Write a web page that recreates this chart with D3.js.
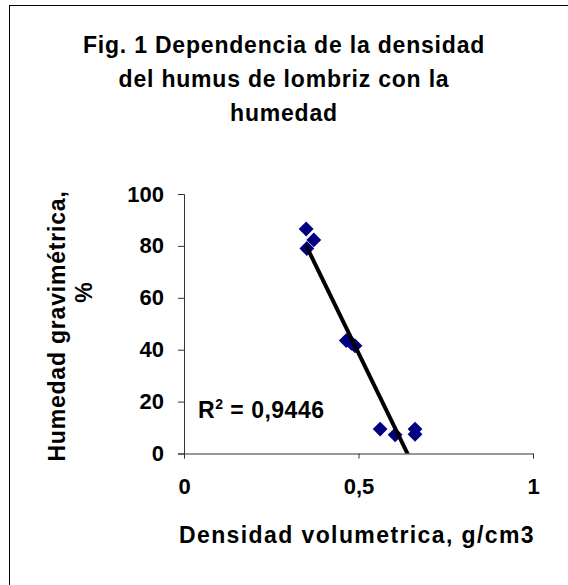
<!DOCTYPE html>
<html>
<head>
<meta charset="utf-8">
<script src="https://cdn.jsdelivr.net/npm/d3@7"></script>
<style>
  body { margin: 0; background: #fff; }
  text { font-family: "Liberation Sans", Arial, sans-serif; font-weight: bold; fill: #000; }
</style>
</head>
<body>
<div id="chart"></div>
<script>
// densidad (g/cm3) vs humedad (%)
var densidad = [0.350, 0.372, 0.352, 0.465, 0.480, 0.490, 0.562, 0.605, 0.662, 0.662];
var humedad = [86.5, 82.3, 79.0, 43.5, 42.5, 41.5, 9.4, 7.2, 9.4, 7.4];
var xTicks = [0, 0.5, 1];
var yTicks = [0, 20, 40, 60, 80, 100];
var titleLines = ["Fig. 1 Dependencia de la densidad", "del humus de lombriz con la", "humedad"];
var yTitleLines = ["Humedad gravimétrica,", "%"];
var xTitle = "Densidad volumetrica, g/cm3";
var trend = { slope: -276, intercept: 176.7, r2: "0,9446" };

var svg = d3.select("#chart")
  .append("svg")
  .attr("width", 568)
  .attr("height", 585);

// chart area frame (right/bottom edges fall outside the picture)
svg.append("rect")
  .attr("x", 9.5)
  .attr("y", 5.5)
  .attr("width", 700)
  .attr("height", 700)
  .attr("fill", "none")
  .attr("stroke", "#000")
  .attr("stroke-width", 1);

var x = d3.scaleLinear().domain([0, 1]).range([184, 533]);
var y = d3.scaleLinear().domain([0, 100]).range([453.5, 194]);

// title
svg.append("g").selectAll("text")
  .data(titleLines)
  .join("text")
  .attr("x", 284)
  .attr("y", (d, i) => 53 + i * 34)
  .attr("text-anchor", "middle")
  .style("font-size", "23px")
  .style("letter-spacing", "0.8px")
  .text(d => d);

var fmt = d => String(d).replace(".", ",");

var axisX = d3.axisBottom(x).tickValues(xTicks).tickSize(5).tickPadding(20).tickFormat(fmt);
var axisY = d3.axisLeft(y).tickValues(yTicks).tickSize(6).tickPadding(14);

var gx = svg.append("g")
  .attr("transform", "translate(0," + y(0) + ")")
  .call(axisX);
gx.selectAll("text").style("font-size", "22px").attr("dy", "0.71em");

var gy = svg.append("g")
  .attr("transform", "translate(" + x(0) + ",0)")
  .call(axisY);
gy.selectAll("text").style("font-size", "22px");

svg.selectAll(".domain, .tick line").attr("stroke", "#333");

// axis titles
svg.append("text")
  .attr("x", 357)
  .attr("y", 543)
  .attr("text-anchor", "middle")
  .style("font-size", "23px")
  .style("letter-spacing", "1.4px")
  .text(xTitle);

svg.append("g")
  .attr("transform", "translate(65,326) rotate(-90)")
  .selectAll("text")
  .data(yTitleLines)
  .join("text")
  .attr("x", (d, i) => i * 34)
  .attr("y", (d, i) => i * 27)
  .attr("text-anchor", "middle")
  .style("font-size", "23px")
  .style("letter-spacing", "0.8px")
  .text(d => d);

// trendline, clipped to plot area
svg.append("clipPath")
  .attr("id", "plot")
  .append("rect")
  .attr("x", x(0))
  .attr("y", y(100))
  .attr("width", x(1) - x(0))
  .attr("height", y(0) - y(100));

var xs = d3.extent(densidad);
var line = d3.line()
  .x(d => x(d))
  .y(d => y(trend.intercept + trend.slope * d));

var pts = densidad.map((d, i) => [d, humedad[i]]);

svg.append("g")
  .selectAll("path")
  .data(pts)
  .join("path")
  .attr("transform", d => "translate(" + x(d[0]) + "," + y(d[1]) + ") rotate(45)")
  .attr("d", d3.symbol().type(d3.symbolSquare).size(110))
  .attr("fill", "#000080");

svg.append("path")
  .datum(xs)
  .attr("clip-path", "url(#plot)")
  .attr("fill", "none")
  .attr("stroke", "#000")
  .attr("stroke-width", 4)
  .attr("d", line);

// R squared label
var r2 = svg.append("text")
  .attr("x", 198)
  .attr("y", 418)
  .style("font-size", "23px")
  .style("letter-spacing", "0.5px");
r2.append("tspan").text("R");
r2.append("tspan").attr("dy", -9).style("font-size", "14px").text("2");
r2.append("tspan").attr("dy", 9).text(" = " + trend.r2);
</script>
</body>
</html>
